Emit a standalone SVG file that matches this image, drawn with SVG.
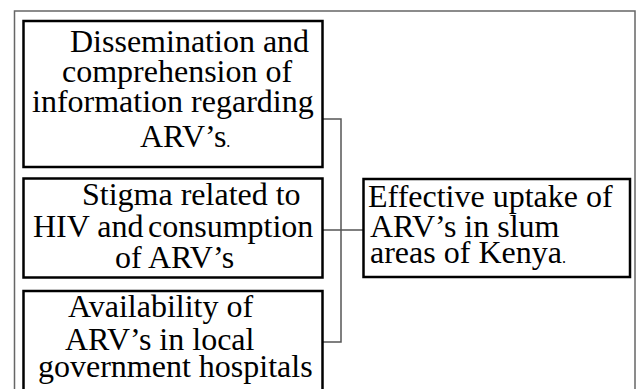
<svg xmlns="http://www.w3.org/2000/svg" width="637" height="389" viewBox="0 0 637 389">
<style>
.frame{fill:none;stroke:#666;stroke-width:1.5}
.box{fill:#fff;stroke:#000;stroke-width:2.5}
.conn{fill:none;stroke:#555;stroke-width:1.5}
.t{font-family:"Liberation Serif","Times New Roman",serif;font-size:32px;fill:#000}
.dot{font-size:16px}
</style>
<rect width="637" height="389" fill="#fff"/>
<rect class="frame" x="14.5" y="11" width="620.5" height="400"/>
<g id="connectors">
<polyline class="conn" points="323,119 341,119 341,342 323,342"/>
<line class="conn" x1="323" y1="230" x2="363" y2="230"/>
</g>
<g id="n1">
<rect class="box" x="23.5" y="21" width="299" height="146"/>
<text class="t" x="70" y="52">Dissemination and</text>
<text class="t" x="62" y="82">comprehension of</text>
<text class="t" x="32" y="112">information regarding</text>
<text class="t" x="140" y="147">ARV’s<tspan class="dot">.</tspan></text>
</g>
<g id="n2">
<rect class="box" x="23.5" y="178.5" width="299" height="99"/>
<text class="t" x="82" y="205">Stigma related to</text>
<text class="t" x="33" y="237">HIV and<tspan x="148">consumption</tspan></text>
<text class="t" x="115" y="268">of ARV’s</text>
</g>
<g id="n3">
<rect class="box" x="23.5" y="291" width="299" height="110"/>
<text class="t" x="68" y="317">Availability of</text>
<text class="t" x="65" y="350">ARV’s in local</text>
<text class="t" x="38" y="377">government hospitals</text>
</g>
<g id="n4">
<rect class="box" x="363.5" y="179" width="266.5" height="98"/>
<text class="t" x="368" y="207">Effective uptake of</text>
<text class="t" x="370" y="237">ARV’s in slum</text>
<text class="t" x="370" y="263">areas of Kenya<tspan class="dot">.</tspan></text>
</g>
</svg>
